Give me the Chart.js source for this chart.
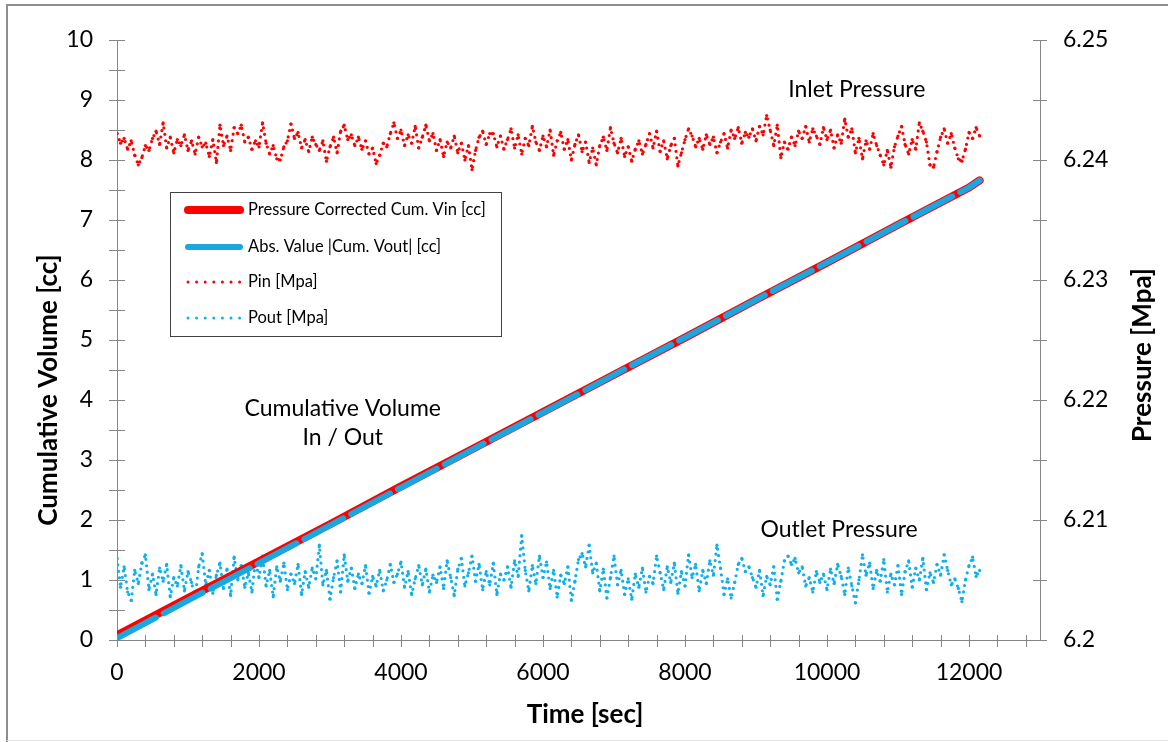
<!DOCTYPE html>
<html>
<head>
<meta charset="utf-8">
<title>Cumulative Volume and Pressure</title>
<script src="https://cdn.jsdelivr.net/npm/chart.js@4.4.0/dist/chart.umd.min.js"></script>
<style>
  html, body { margin: 0; padding: 0; background: #fff; }
  #wrap { width: 1168px; height: 742px; }
</style>
</head>
<body>
<div id="wrap"><canvas id="volume-chart" width="1168" height="742"></canvas></div>
<script>
// time stamps of the cumulative volume curves [sec]
const cumTimes = [0, 1000, 2000, 3000, 4000, 5000, 6000, 7000, 8000, 9000, 10000, 11000, 12000, 12150];
// Pressure Corrected Cum. Vin [cc]
const vinCum = [0.08, 0.70, 1.31, 1.93, 2.56, 3.18, 3.80, 4.42, 5.04, 5.67, 6.29, 6.92, 7.54, 7.66];
// Abs. Value |Cum. Vout| [cc]
const voutCum = [0.03, 0.66, 1.28, 1.91, 2.54, 3.17, 3.79, 4.42, 5.04, 5.67, 6.29, 6.92, 7.54, 7.66];

// pressure readings, one every 50 sec [MPa]
const sampleSec = 50;
const pinMpa = [
    6.2422, 6.2414, 6.2418, 6.2409, 6.2416, 6.2404, 6.2396, 6.2402, 6.2412, 6.2408,
    6.2418, 6.2424, 6.2413, 6.2431, 6.2410, 6.2419, 6.2406, 6.2417, 6.2412, 6.2421,
    6.2408, 6.2416, 6.2405, 6.2419, 6.2411, 6.2414, 6.2403, 6.2417, 6.2398, 6.2429,
    6.2412, 6.2420, 6.2408, 6.2427, 6.2422, 6.2429, 6.2415, 6.2419, 6.2409, 6.2416,
    6.2411, 6.2431, 6.2414, 6.2405, 6.2412, 6.2401, 6.2400, 6.2411, 6.2416, 6.2430,
    6.2418, 6.2423, 6.2410, 6.2417, 6.2407, 6.2419, 6.2413, 6.2408, 6.2416, 6.2399,
    6.2411, 6.2419, 6.2406, 6.2424, 6.2429, 6.2417, 6.2421, 6.2412, 6.2419, 6.2409,
    6.2416, 6.2405, 6.2410, 6.2397, 6.2404, 6.2414, 6.2411, 6.2422, 6.2431, 6.2418,
    6.2425, 6.2412, 6.2421, 6.2414, 6.2428, 6.2410, 6.2419, 6.2429, 6.2416, 6.2422,
    6.2408, 6.2417, 6.2403, 6.2415, 6.2410, 6.2420, 6.2406, 6.2414, 6.2400, 6.2412,
    6.2392, 6.2408, 6.2419, 6.2424, 6.2413, 6.2422, 6.2422, 6.2411, 6.2420, 6.2409,
    6.2417, 6.2426, 6.2410, 6.2421, 6.2405, 6.2418, 6.2412, 6.2428, 6.2415, 6.2408,
    6.2420, 6.2411, 6.2425, 6.2404, 6.2416, 6.2423, 6.2409, 6.2417, 6.2400, 6.2413,
    6.2421, 6.2407, 6.2415, 6.2398, 6.2410, 6.2396, 6.2412, 6.2419, 6.2408, 6.2427,
    6.2414, 6.2406, 6.2418, 6.2403, 6.2411, 6.2399, 6.2409, 6.2416, 6.2405, 6.2413,
    6.2422, 6.2410, 6.2424, 6.2407, 6.2416, 6.2401, 6.2412, 6.2418, 6.2395, 6.2406,
    6.2417, 6.2426, 6.2420, 6.2411, 6.2418, 6.2409, 6.2421, 6.2413, 6.2419, 6.2406,
    6.2415, 6.2422, 6.2410, 6.2425, 6.2418, 6.2427, 6.2414, 6.2423, 6.2419, 6.2426,
    6.2416, 6.2428, 6.2421, 6.2437, 6.2425, 6.2412, 6.2429, 6.2402, 6.2415, 6.2409,
    6.2419, 6.2412, 6.2424, 6.2418, 6.2428, 6.2415, 6.2426, 6.2420, 6.2413, 6.2427,
    6.2417, 6.2425, 6.2410, 6.2421, 6.2414, 6.2434, 6.2419, 6.2426, 6.2406, 6.2418,
    6.2401, 6.2416, 6.2409, 6.2422, 6.2412, 6.2404, 6.2396, 6.2408, 6.2394, 6.2411,
    6.2420, 6.2428, 6.2413, 6.2405, 6.2417, 6.2409, 6.2431, 6.2424, 6.2415, 6.2396,
    6.2394, 6.2407, 6.2419, 6.2426, 6.2414, 6.2422, 6.2410, 6.2401, 6.2399, 6.2409,
    6.2423, 6.2418, 6.2427, 6.2420
];
const poutMpa = [
    6.2068, 6.2044, 6.2061, 6.2040, 6.2033, 6.2058, 6.2047, 6.2064, 6.2071, 6.2042,
    6.2055, 6.2038, 6.2060, 6.2049, 6.2063, 6.2036, 6.2052, 6.2045, 6.2062, 6.2041,
    6.2057, 6.2048, 6.2035, 6.2061, 6.2072, 6.2046, 6.2058, 6.2039, 6.2054, 6.2064,
    6.2043, 6.2059, 6.2037, 6.2069, 6.2050, 6.2062, 6.2044, 6.2056, 6.2040, 6.2066,
    6.2052, 6.2070, 6.2045, 6.2058, 6.2036, 6.2061, 6.2049, 6.2064, 6.2042, 6.2055,
    6.2047, 6.2063, 6.2038, 6.2057, 6.2044, 6.2060, 6.2051, 6.2079, 6.2046, 6.2058,
    6.2034, 6.2052, 6.2066, 6.2040, 6.2071, 6.2049, 6.2060, 6.2043, 6.2055, 6.2047,
    6.2062, 6.2039, 6.2053, 6.2045, 6.2058, 6.2041, 6.2050, 6.2063, 6.2048, 6.2055,
    6.2065, 6.2044, 6.2057, 6.2038, 6.2051, 6.2062, 6.2046, 6.2059, 6.2040, 6.2054,
    6.2048, 6.2061, 6.2043, 6.2066, 6.2052, 6.2037, 6.2059, 6.2068, 6.2045, 6.2056,
    6.2070, 6.2049, 6.2063, 6.2042, 6.2057, 6.2046, 6.2064, 6.2038, 6.2055, 6.2050,
    6.2061, 6.2044, 6.2066, 6.2053, 6.2087, 6.2058, 6.2041, 6.2062, 6.2047, 6.2070,
    6.2052, 6.2065, 6.2043, 6.2058, 6.2036, 6.2054, 6.2047, 6.2061, 6.2033, 6.2049,
    6.2067, 6.2072, 6.2061, 6.2079, 6.2056, 6.2064, 6.2041, 6.2059, 6.2035, 6.2052,
    6.2070, 6.2046, 6.2058, 6.2038, 6.2051, 6.2034, 6.2055, 6.2044, 6.2060, 6.2040,
    6.2053, 6.2047, 6.2070, 6.2056, 6.2042, 6.2061, 6.2048, 6.2064, 6.2039, 6.2057,
    6.2045, 6.2071, 6.2052, 6.2063, 6.2041, 6.2058, 6.2047, 6.2066, 6.2054, 6.2079,
    6.2060, 6.2038, 6.2051, 6.2035, 6.2048, 6.2063, 6.2068, 6.2057, 6.2061, 6.2052,
    6.2044, 6.2058, 6.2037, 6.2053, 6.2046, 6.2061, 6.2034, 6.2049, 6.2066, 6.2070,
    6.2063, 6.2068, 6.2056, 6.2061, 6.2045, 6.2052, 6.2040, 6.2057, 6.2048, 6.2055,
    6.2042, 6.2059, 6.2047, 6.2063, 6.2053, 6.2038, 6.2060, 6.2045, 6.2031, 6.2050,
    6.2071, 6.2054, 6.2064, 6.2043, 6.2058, 6.2049, 6.2067, 6.2040, 6.2055, 6.2046,
    6.2062, 6.2038, 6.2057, 6.2066, 6.2044, 6.2060, 6.2050, 6.2068, 6.2042, 6.2056,
    6.2048, 6.2063, 6.2054, 6.2071, 6.2058, 6.2046, 6.2051, 6.2043, 6.2032, 6.2050,
    6.2062, 6.2069, 6.2053, 6.2058
];

// tick labels
const timeTicks = [0, 2000, 4000, 6000, 8000, 10000, 12000];
const volumeTicks = [0, 1, 2, 3, 4, 5, 6, 7, 8, 9, 10];
const pressureTicks = [6.2, 6.21, 6.22, 6.23, 6.24, 6.25];

Chart.defaults.font.family = "Lato, 'Open Sans', sans-serif";
Chart.defaults.color = "#000";

var axisColor = "#868686";

function toPoints(xs, ys) {
    return ys.map(function (v, i) { return { x: xs[i], y: v }; });
}
function sampled(ys) {
    return ys.map(function (v, i) { return { x: i * sampleSec, y: v }; });
}

// frame, tick marks, titles, notes and the boxed legend
var decorations = {
    id: "decorations",
    beforeDraw: function (chart) {
        var ctx = chart.ctx;
        ctx.save();
        ctx.strokeStyle = "#8e8e8e";
        ctx.lineWidth = 2;
        ctx.beginPath();
        ctx.moveTo(7, 742);
        ctx.lineTo(7, 5);
        ctx.lineTo(1168, 5);
        ctx.stroke();
        ctx.strokeStyle = "#e2e2e2";
        ctx.lineWidth = 1;
        ctx.beginPath();
        ctx.moveTo(7, 740.5);
        ctx.lineTo(1168, 740.5);
        ctx.stroke();
        ctx.restore();
    },
    afterDraw: function (chart) {
        var ctx = chart.ctx;
        var x = chart.scales.x, y = chart.scales.y, y2 = chart.scales.y2;
        var area = chart.chartArea;
        var v, p;

        ctx.save();
        ctx.strokeStyle = axisColor;
        ctx.lineWidth = 1;
        ctx.beginPath();
        for (v = 0; v <= 13000; v += 400) {
            p = Math.round(x.getPixelForValue(v)) + 0.5;
            ctx.moveTo(p, area.bottom - 5);
            ctx.lineTo(p, area.bottom + 7);
        }
        for (v = 0; v <= 10; v += 0.5) {
            p = Math.round(y.getPixelForValue(v)) + 0.5;
            ctx.moveTo(area.left - 8, p);
            ctx.lineTo(area.left + 8, p);
        }
        for (v = 0; v <= 10; v += 1) {
            p = Math.round(y2.getPixelForValue(6.2 + v * 0.005)) + 0.5;
            ctx.moveTo(area.right - 7, p);
            ctx.lineTo(area.right + 7, p);
        }
        ctx.stroke();

        // axis titles
        ctx.fillStyle = "#000";
        ctx.font = "bold 26px Lato, sans-serif";
        ctx.textAlign = "center";
        ctx.textBaseline = "middle";
        ctx.fillText("Time [sec]", 585, 715);
        ctx.save();
        ctx.translate(49, 390);
        ctx.rotate(-Math.PI / 2);
        ctx.fillText("Cumulative Volume [cc]", 0, 0);
        ctx.restore();
        ctx.save();
        ctx.translate(1143, 355);
        ctx.rotate(-Math.PI / 2);
        ctx.fillText("Pressure [Mpa]", 0, 0);
        ctx.restore();

        // notes in the plot
        ctx.font = "23px Lato, sans-serif";
        ctx.fillText("Inlet Pressure", x.getPixelForValue(10420), y.getPixelForValue(9.17));
        ctx.fillText("Cumulative Volume", x.getPixelForValue(3180), y.getPixelForValue(3.86));
        ctx.fillText("In / Out", x.getPixelForValue(3180), y.getPixelForValue(3.38));
        ctx.fillText("Outlet Pressure", x.getPixelForValue(10170), y.getPixelForValue(1.84));

        // legend box
        ctx.strokeStyle = "#404040";
        ctx.lineWidth = 1;
        ctx.strokeRect(170.5, 192.5, 331, 144);
        var rows = [210, 247, 282, 318];
        ctx.font = "16.5px Lato, sans-serif";
        ctx.textAlign = "left";
        chart.data.datasets.forEach(function (ds, i) {
            var ry = rows[i];
            ctx.save();
            ctx.strokeStyle = ds.borderColor;
            ctx.lineCap = "round";
            if (ds.legendDots) {
                ctx.lineWidth = 3;
                ctx.setLineDash([0, 8.6]);
            } else {
                ctx.lineWidth = ds.borderWidth;
            }
            ctx.beginPath();
            ctx.moveTo(188, ry);
            ctx.lineTo(240, ry);
            ctx.stroke();
            ctx.restore();
            ctx.fillText(ds.label, 248, ry);
        });
        ctx.restore();
    }
};

var ctx1 = document.getElementById("volume-chart").getContext("2d");
var volumeChart = new Chart(ctx1, {
    type: "line",
    data: {
        datasets: [{
            label: "Pressure Corrected Cum. Vin [cc]",
            data: toPoints(cumTimes, vinCum),
            borderColor: "#ff0000",
            borderWidth: 8,
            borderCapStyle: "round",
            pointRadius: 0,
            yAxisID: "y",
            order: 1
        }, {
            label: "Abs. Value |Cum. Vout| [cc]",
            data: toPoints(cumTimes, voutCum),
            borderColor: "#1aa7e0",
            borderWidth: 6,
            borderCapStyle: "round",
            borderDash: [44, 9],
            pointRadius: 0,
            yAxisID: "y",
            order: 0
        }, {
            label: "Pin [Mpa]",
            data: sampled(pinMpa),
            borderColor: "#ff0000",
            backgroundColor: "#ff0000",
            borderWidth: 3.2,
            borderCapStyle: "round",
            borderDash: [0, 6.5],
            pointRadius: 1.6,
            pointBorderWidth: 0,
            yAxisID: "y2",
            legendDots: true,
            order: 2
        }, {
            label: "Pout [Mpa]",
            data: sampled(poutMpa),
            borderColor: "#0fb0ef",
            backgroundColor: "#0fb0ef",
            borderWidth: 3.2,
            borderCapStyle: "round",
            borderDash: [0, 6.5],
            pointRadius: 1.6,
            pointBorderWidth: 0,
            yAxisID: "y2",
            legendDots: true,
            order: 3
        }]
    },
    options: {
        responsive: false,
        animation: false,
        layout: { padding: { top: 40, left: 0, right: 0, bottom: 0 } },
        plugins: {
            legend: { display: false },
            tooltip: { enabled: false }
        },
        scales: {
            x: {
                type: "linear",
                min: 0,
                max: 13000,
                afterFit: function (s) { s.height = 102; },
                afterBuildTicks: function (s) { s.ticks = timeTicks.map(function (v) { return { value: v }; }); },
                grid: { display: false, drawTicks: false },
                border: { display: true, color: axisColor },
                ticks: {
                    padding: 19,
                    maxRotation: 0,
                    font: { size: 23 },
                    callback: function (v) { return String(v); }
                }
            },
            y: {
                position: "left",
                min: 0,
                max: 10,
                afterFit: function (s) { s.width = 117; },
                afterBuildTicks: function (s) { s.ticks = volumeTicks.map(function (v) { return { value: v }; }); },
                grid: { display: false, drawTicks: false },
                border: { display: true, color: axisColor },
                ticks: {
                    padding: 24,
                    font: { size: 23 },
                    callback: function (v) { return String(v); }
                }
            },
            y2: {
                position: "right",
                min: 6.2,
                max: 6.25,
                afterFit: function (s) { s.width = 128; },
                afterBuildTicks: function (s) { s.ticks = pressureTicks.map(function (v) { return { value: v }; }); },
                grid: { display: false, drawTicks: false },
                border: { display: true, color: axisColor },
                ticks: {
                    padding: 23,
                    font: { size: 23 },
                    callback: function (v) { return String(+v.toFixed(3)); }
                }
            }
        }
    },
    plugins: [decorations]
});
</script>
</body>
</html>
